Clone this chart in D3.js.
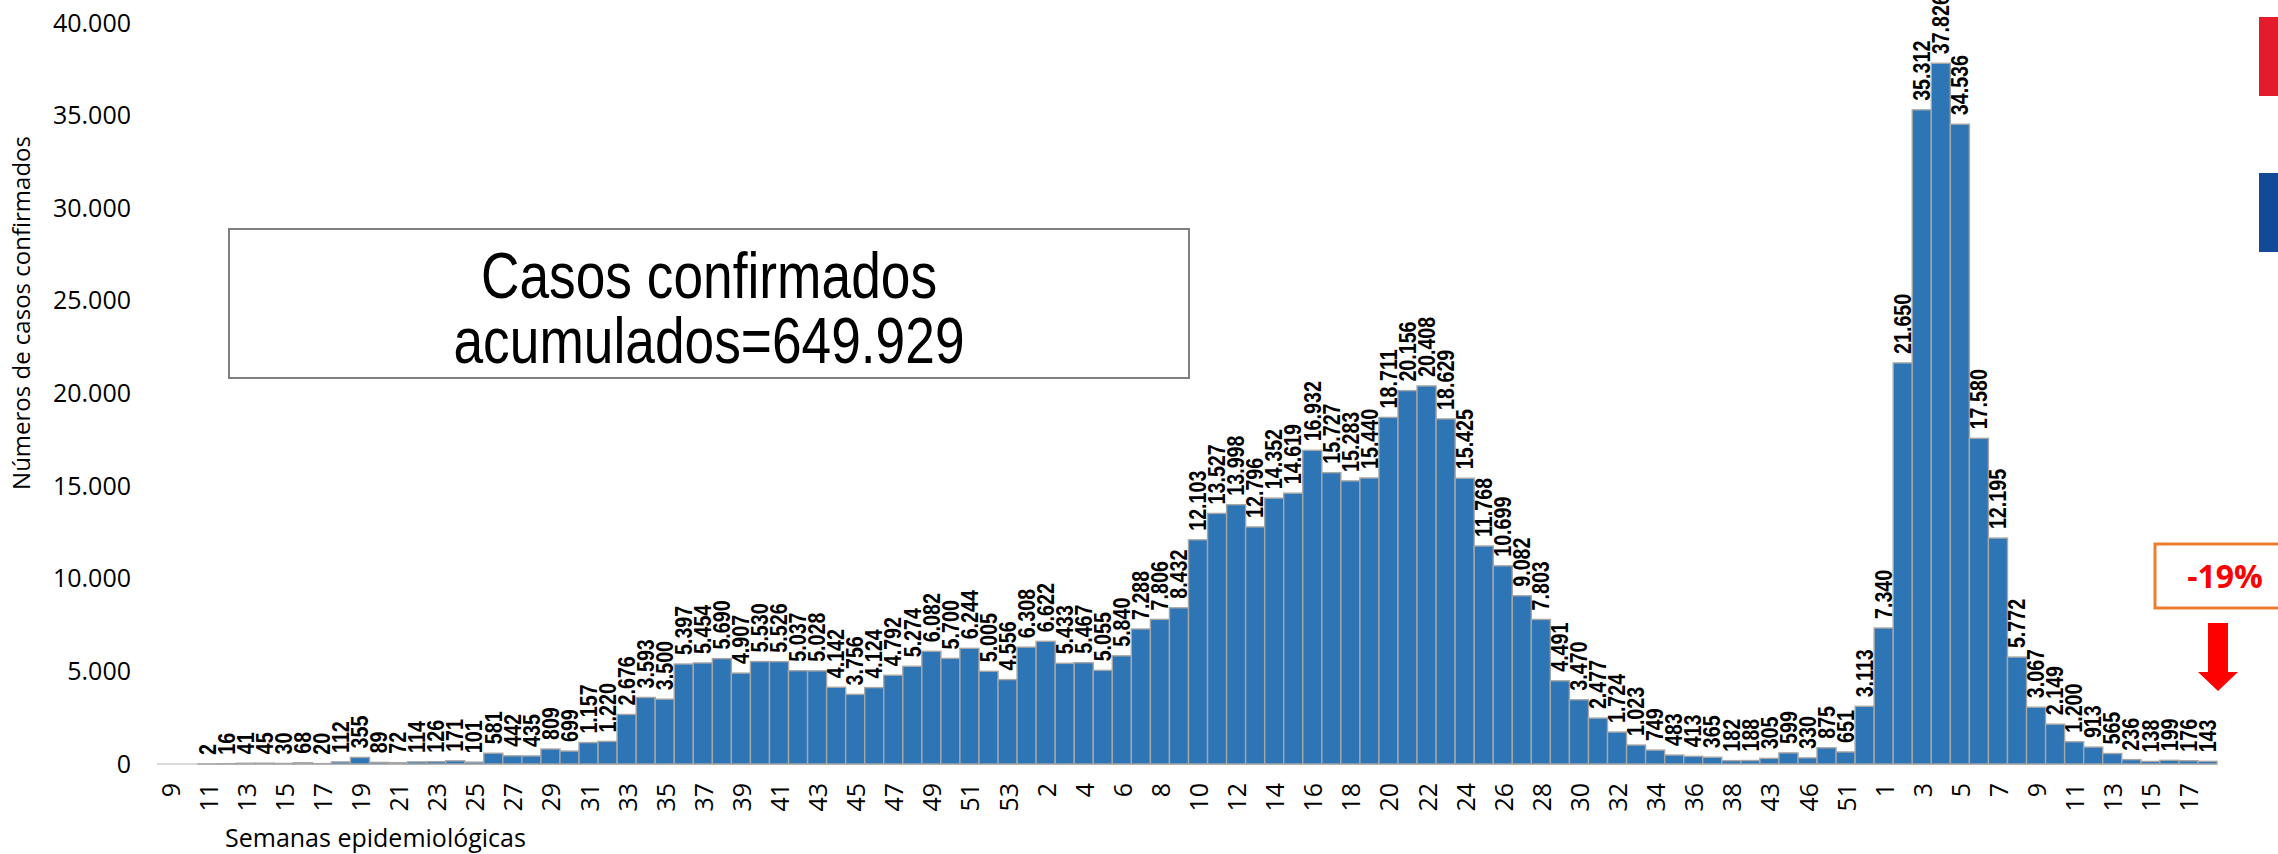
<!DOCTYPE html>
<html>
<head>
<meta charset="utf-8">
<script src="https://cdn.jsdelivr.net/npm/d3@7/dist/d3.min.js"></script>
<style>
  html, body { margin: 0; padding: 0; background: #ffffff; overflow: hidden; }
  svg { display: block; }
</style>
</head>
<body>
<svg id="chart" width="2278" height="854"></svg>
<script>
// ---- Data ----
const weeks2020 = ["9","10","11","12","13","14","15","16","17","18","19","20","21","22","23","24","25","26","27","28","29","30","31","32","33","34","35","36","37","38","39","40","41","42","43","44","45","46","47","48","49","50","51","52","53"];
const cases2020 = [null,null,2,16,41,45,30,68,20,112,355,89,72,114,126,171,101,581,442,435,809,699,1157,1220,2676,3593,3500,5397,5454,5690,4907,5530,5526,5037,5028,4142,3756,4124,4792,5274,6082,5700,6244,5005,4556];

const weeks2021 = ["1","2","3","4","5","6","7","8","9","10","11","12","13","14","15","16","17","18","19","20","21","22","23","24","25","26","27","28","29","30","31","32","33","34","35","36","37","38","40","43","44","46","49","51","52"];
const cases2021 = [6308,6622,5433,5467,5055,5840,7288,7806,8432,12103,13527,13998,12796,14352,14619,16932,15727,15283,15440,18711,20156,20408,18629,15425,11768,10699,9082,7803,4491,3470,2477,1724,1023,749,483,413,365,182,188,305,599,330,875,651,3113];

const weeks2022 = ["1","2","3","4","5","6","7","8","9","10","11","12","13","14","15","16","17","18"];
const cases2022 = [7340,21650,35312,37826,34536,17580,12195,5772,3067,2149,1200,913,565,236,138,199,176,143];

const yTicks = [0,5000,10000,15000,20000,25000,30000,35000,40000];
const totalText = ["Casos confirmados", "acumulados=649.929"];
const changeText = "-19%";
const yTitle = "Números de casos confirmados";
const xTitle = "Semanas epidemiológicas";

// ---- Build table ----
const rows = [];
[[2020, weeks2020, cases2020], [2021, weeks2021, cases2021], [2022, weeks2022, cases2022]].forEach(([yr, w, c]) => {
  w.forEach((wk, i) => rows.push({ key: yr + "-" + wk, week: wk, value: c[i] }));
});

const locale = d3.formatLocale({ decimal: ",", thousands: ".", grouping: [3], currency: ["", ""] });
const fmt = locale.format(",d");

const svg = d3.select("#chart");

const x = d3.scaleBand().domain(rows.map(d => d.key)).range([160, 2217]).padding(0);
const y = d3.scaleLinear().domain([0, 40000]).range([764, 23]);

// Baseline
svg.append("line")
  .attr("x1", 157).attr("x2", x.range()[1])
  .attr("y1", y(0)).attr("y2", y(0))
  .attr("stroke", "#d9d9d9").attr("stroke-width", 2);

// Y axis (labels only)
const yAxis = svg.append("g")
  .attr("transform", "translate(131,0)")
  .call(d3.axisLeft(y).tickValues(yTicks).tickSize(0).tickPadding(0).tickFormat(fmt));
yAxis.select(".domain").remove();
yAxis.selectAll("text")
  .attr("font-family", "'Open Sans', sans-serif")
  .attr("font-size", 25)
  .attr("fill", "#000");

// X axis (every other category)
const xAxis = svg.append("g")
  .attr("transform", "translate(0," + 783 + ")")
  .call(d3.axisBottom(x)
    .tickValues(rows.filter((d, i) => i % 2 === 0).map(d => d.key))
    .tickSize(0)
    .tickFormat(k => k.split("-")[1]));
xAxis.select(".domain").remove();
xAxis.selectAll("text")
  .attr("font-family", "'Open Sans', sans-serif")
  .attr("font-size", 25)
  .attr("fill", "#000")
  .attr("x", 0).attr("y", 0).attr("dy", null)
  .attr("dominant-baseline", "central")
  .attr("text-anchor", "end")
  .attr("transform", "rotate(-90)");

// Bars
svg.append("g").selectAll("rect")
  .data(rows.filter(d => d.value != null))
  .join("rect")
  .attr("x", d => x(d.key))
  .attr("width", x.bandwidth())
  .attr("y", d => y(d.value))
  .attr("height", d => y(0) - y(d.value))
  .attr("fill", "#2e75b6")
  .attr("stroke", "#a6a6a6")
  .attr("stroke-width", 1.4);

// Bar value labels
svg.append("g").selectAll("text")
  .data(rows.filter(d => d.value != null))
  .join("text")
  .attr("transform", d => `translate(${x(d.key) + x.bandwidth() / 2},${y(d.value) - 9}) rotate(-90) scale(0.82,1)`)
  .attr("dominant-baseline", "central")
  .attr("text-anchor", "start")
  .attr("font-family", "'Liberation Sans', Arial, sans-serif")
  .attr("font-weight", "bold")
  .attr("font-size", 24)
  .attr("fill", "#000")
  .text(d => fmt(d.value));

// Axis titles
svg.append("text")
  .attr("transform", "translate(30,313) rotate(-90)")
  .attr("text-anchor", "middle")
  .attr("font-family", "'Open Sans', sans-serif")
  .attr("font-size", 24)
  .attr("fill", "#000")
  .text(yTitle);

svg.append("text")
  .attr("x", 225).attr("y", 847)
  .attr("font-family", "'Open Sans', sans-serif")
  .attr("font-size", 25)
  .attr("fill", "#000")
  .text(xTitle);

// Total annotation box
svg.append("rect")
  .attr("x", 229).attr("y", 229).attr("width", 960).attr("height", 149)
  .attr("fill", "#fff").attr("stroke", "#7f7f7f").attr("stroke-width", 2);
totalText.forEach((t, i) => {
  svg.append("text")
    .attr("transform", `translate(709,${298 + i * 65}) scale(0.82,1)`)
    .attr("text-anchor", "middle")
    .attr("font-family", "'Liberation Sans', Arial, sans-serif")
    .attr("font-size", 65)
    .attr("fill", "#000")
    .text(t);
});

// Legend-like colour squares at right edge (clipped in the reference)
svg.append("rect").attr("x", 2259).attr("y", 17).attr("width", 40).attr("height", 79).attr("fill", "#e31b2a");
svg.append("rect").attr("x", 2259).attr("y", 173).attr("width", 40).attr("height", 79).attr("fill", "#124a98");

// -19% box
svg.append("rect")
  .attr("x", 2155).attr("y", 544).attr("width", 160).attr("height", 64)
  .attr("fill", "#fff").attr("stroke", "#ed7d31").attr("stroke-width", 3);
svg.append("text")
  .attr("x", 2225).attr("y", 588)
  .attr("text-anchor", "middle")
  .attr("font-family", "'Open Sans', sans-serif")
  .attr("font-weight", "bold")
  .attr("font-size", 32)
  .attr("fill", "#ff0000")
  .text(changeText);

// Down arrow
svg.append("path")
  .attr("d", "M2208,623 L2228,623 L2228,672 L2238,672 L2218,691 L2198,672 L2208,672 Z")
  .attr("fill", "#ff0000");
</script>
</body>
</html>
